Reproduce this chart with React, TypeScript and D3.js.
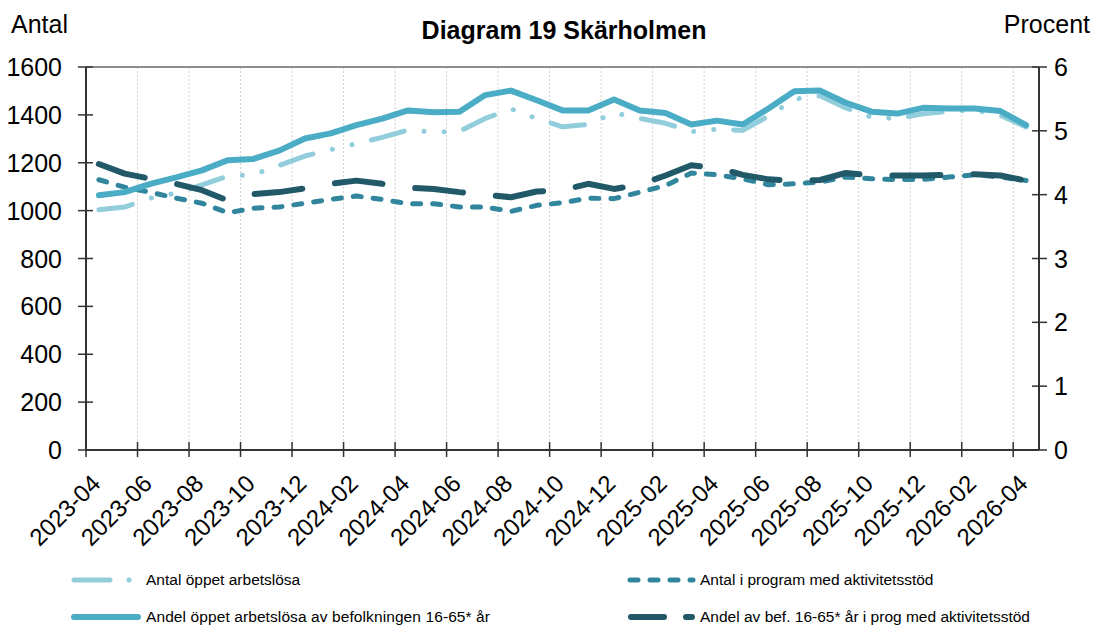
import React from "react";
import * as d3 from "d3";

// månader 2023-04 .. 2026-04
const months = [
  "2023-04", "2023-05", "2023-06", "2023-07", "2023-08", "2023-09", "2023-10", "2023-11", "2023-12",
  "2024-01", "2024-02", "2024-03", "2024-04", "2024-05", "2024-06", "2024-07", "2024-08", "2024-09",
  "2024-10", "2024-11", "2024-12", "2025-01", "2025-02", "2025-03", "2025-04", "2025-05", "2025-06",
  "2025-07", "2025-08", "2025-09", "2025-10", "2025-11", "2025-12", "2026-01", "2026-02", "2026-03",
  "2026-04",
];

// vänster axel (antal)
const antalOppet = [
  1004, 1015, 1052, 1073, 1108, 1144, 1150, 1189, 1228, 1255, 1280, 1306, 1337, 1328, 1331, 1385,
  1425, 1385, 1350, 1360, 1409, 1385, 1365, 1330, 1340, 1335, 1395, 1465, 1480, 1429, 1390, 1384,
  1405, 1415, 1420, 1398, 1350,
];
const antalProgram = [
  1129, 1098, 1077, 1052, 1031, 991, 1010, 1015, 1031, 1047, 1061, 1047, 1029, 1029, 1015, 1015,
  997, 1022, 1033, 1052, 1050, 1077, 1105, 1157, 1150, 1133, 1108, 1112, 1119, 1140, 1133, 1130,
  1130, 1140, 1150, 1140, 1126,
];

// höger axel (procent)
const andelOppet = [
  3.99, 4.04, 4.17, 4.27, 4.38, 4.54, 4.56, 4.69, 4.88, 4.96, 5.09, 5.19, 5.32, 5.29, 5.3, 5.56,
  5.63, 5.48, 5.32, 5.32, 5.49, 5.32, 5.28, 5.1, 5.16, 5.1, 5.35, 5.62, 5.63, 5.44, 5.3, 5.27,
  5.36, 5.35, 5.35, 5.31, 5.09,
];
const andelProgram = [
  4.48, 4.33, 4.25, 4.17, 4.07, 3.91, 4.01, 4.04, 4.1, 4.17, 4.22, 4.17, 4.11, 4.09, 4.04, 4.0,
  3.96, 4.05, 4.07, 4.17, 4.09, 4.16, 4.3, 4.46, 4.42, 4.31, 4.24, 4.22, 4.23, 4.34, 4.3, 4.3,
  4.3, 4.31, 4.32, 4.3, 4.22,
];

const leftTicks = [0, 200, 400, 600, 800, 1000, 1200, 1400, 1600];
const rightTicks = [0, 1, 2, 3, 4, 5, 6];

const FONT = "'Liberation Sans', Arial, sans-serif";

const App = () => {
  const left = 86;
  const right = 1039;
  const top = 67;
  const bottom = 450;

  const x = d3.scaleBand<string>().domain(months).range([left, right]).padding(0);
  const bw = x.bandwidth();
  const cx = (m: string) => (x(m) as number) + bw / 2;
  const yL = d3.scaleLinear().domain([0, 1600]).range([bottom, top]);
  const yR = d3.scaleLinear().domain([0, 6]).range([bottom, top]);

  const lineL = d3.line<number>().x((_, i) => cx(months[i])).y((d) => yL(d));
  const lineR = d3.line<number>().x((_, i) => cx(months[i])).y((d) => yR(d));

  const tickMonths = months.filter((_, i) => i % 2 === 0);

  return (
    <svg
      width={1095}
      height={628}
      style={{ position: "absolute", left: 0, top: 0, background: "#fff" }}
      fontFamily={FONT}
    >
      {/* titel och axelrubriker */}
      <text x={564} y={39} textAnchor="middle" fontSize={25} fontWeight="bold" fill="#000">
        Diagram 19 Skärholmen
      </text>
      <text x={11} y={33} fontSize={25} fill="#000">Antal</text>
      <text x={1090} y={33} fontSize={25} fill="#000" textAnchor="end">Procent</text>

      {/* lodräta stödlinjer */}
      {tickMonths.slice(1).map((m) => (
        <line key={"g" + m} x1={x(m)} x2={x(m)} y1={top} y2={bottom}
          stroke="#d0d0d0" strokeWidth={1} strokeDasharray="2,2" />
      ))}

      {/* ram upptill */}
      <line x1={left} x2={right} y1={top} y2={top} stroke="#8c8c8c" strokeWidth={2} />

      {/* serier */}
      <path d={lineL(antalOppet) as string} fill="none" stroke="#92cddc" strokeWidth={5}
        strokeLinecap="round" strokeLinejoin="round" strokeDasharray="34,20,0.1,20,0.1,20" />
      <path d={lineL(antalProgram) as string} fill="none" stroke="#31859c" strokeWidth={5}
        strokeLinecap="round" strokeLinejoin="round" strokeDasharray="8,12" />
      <path d={lineR(andelOppet) as string} fill="none" stroke="#4bacc6" strokeWidth={6}
        strokeLinecap="round" strokeLinejoin="round" />
      <path d={lineR(andelProgram) as string} fill="none" stroke="#215968" strokeWidth={6}
        strokeLinecap="round" strokeLinejoin="round" strokeDasharray="48,33" />

      {/* vänster axel */}
      <line x1={left} x2={left} y1={top} y2={bottom} stroke="#333" strokeWidth={2} />
      {leftTicks.map((t) => (
        <g key={"l" + t}>
          <line x1={left - 8} x2={left + 7} y1={yL(t)} y2={yL(t)} stroke="#333" strokeWidth={1.5} />
          <text x={62} y={yL(t)} dy="0.36em" textAnchor="end" fontSize={25} fill="#000">{t}</text>
        </g>
      ))}

      {/* höger axel */}
      <line x1={right} x2={right} y1={top} y2={bottom} stroke="#333" strokeWidth={2} />
      {rightTicks.map((t) => (
        <g key={"r" + t}>
          <line x1={right - 7} x2={right + 8} y1={yR(t)} y2={yR(t)} stroke="#333" strokeWidth={1.5} />
          <text x={1054} y={yR(t)} dy="0.36em" fontSize={25} fill="#000">{t}</text>
        </g>
      ))}

      {/* x-axel */}
      <line x1={left} x2={right} y1={bottom} y2={bottom} stroke="#333" strokeWidth={2} />
      {tickMonths.map((m) => (
        <g key={"x" + m}>
          <line x1={x(m)} x2={x(m)} y1={bottom - 8} y2={bottom + 7} stroke="#333" strokeWidth={1.5} />
          <text transform={`translate(${cx(m) + 3},${485}) rotate(-45)`} textAnchor="end"
            fontSize={24} fill="#000">{m}</text>
        </g>
      ))}

      {/* förklaring */}
      <line x1={74} x2={133} y1={580} y2={580} stroke="#92cddc" strokeWidth={5}
        strokeLinecap="round" strokeDasharray="36,19,0.1,100" />
      <text x={146} y={580} dy="0.35em" fontSize={15.5} fill="#000">Antal öppet arbetslösa</text>
      <line x1={74} x2={138} y1={617} y2={617} stroke="#4bacc6" strokeWidth={6} strokeLinecap="round" />
      <text x={146} y={617} dy="0.35em" fontSize={15.5} fill="#000" textLength={344} lengthAdjust="spacing">
        Andel öppet arbetslösa av befolkningen 16-65* år
      </text>
      <line x1={630} x2={693} y1={580} y2={580} stroke="#31859c" strokeWidth={5}
        strokeLinecap="round" strokeDasharray="8,12" />
      <text x={700} y={580} dy="0.35em" fontSize={15.5} fill="#000">Antal i program med aktivitetsstöd</text>
      <line x1={631} x2={692} y1={617} y2={617} stroke="#215968" strokeWidth={6}
        strokeLinecap="round" strokeDasharray="33,22,6" />
      <text x={700} y={617} dy="0.35em" fontSize={15.5} fill="#000">
        Andel av bef. 16-65* år i prog med aktivitetsstöd
      </text>
    </svg>
  );
};

export default App;
